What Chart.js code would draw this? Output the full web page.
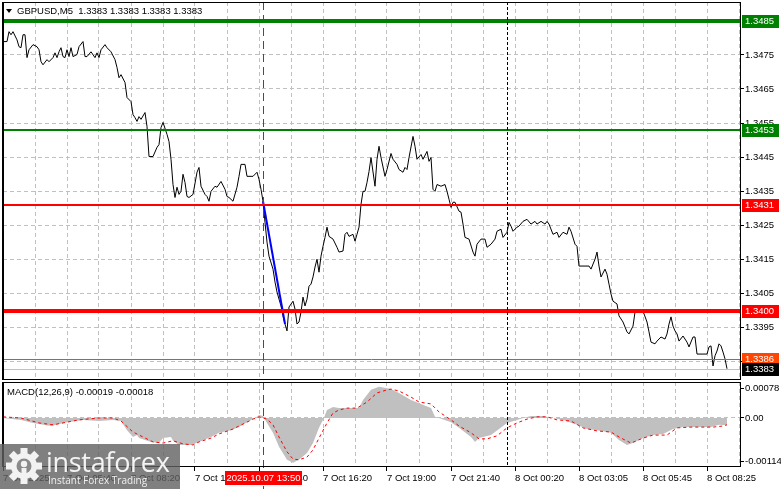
<!DOCTYPE html>
<html>
<head>
<meta charset="utf-8">
<title>GBPUSD,M5</title>
<script src="https://cdn.jsdelivr.net/npm/chart.js@4.4.1/dist/chart.umd.min.js"></script>
<style>
  html, body { margin: 0; padding: 0; background: #fff; }
  #wrap { position: relative; width: 781px; height: 489px; overflow: hidden; background: #fff; }
  canvas { position: absolute; left: 0; }
  #main { top: 0; }
  #macd { top: 381px; }
  .title { position: absolute; font: 9.5px "Liberation Sans", Arial, sans-serif; color: #000; white-space: pre; line-height: 12px; }
  #tri { position: absolute; left: 6px; top: 9px; width: 0; height: 0; border-left: 3px solid transparent; border-right: 3px solid transparent; border-top: 4px solid #000; }
  #wm { position: absolute; left: 0; top: 444px; width: 180px; height: 45px; background: rgba(96, 96, 96, 0.8); }
  #wm svg { position: absolute; left: 4px; top: 2px; }
  .wm-big { position: absolute; left: 46px; top: 2px; font: 27px "Open Sans", sans-serif; line-height: 32px; color: #f4f4f4; letter-spacing: -0.3px; }
  .wm-small { position: absolute; left: 48px; top: 30px; font: 10px "Open Sans", sans-serif; line-height: 12px; color: #f0f0f0; }
</style>
</head>
<body>
<div id="wrap">
  <canvas id="main" width="781" height="381"></canvas>
  <canvas id="macd" width="781" height="108"></canvas>
  <div id="tri"></div>
  <div class="title" style="left:17px;top:5px">GBPUSD,M5  1.3383 1.3383 1.3383 1.3383</div>
  <div class="title" style="left:7px;top:386px">MACD(12,26,9) -0.00019 -0.00018</div>
  <div id="wm">
    <svg width="40" height="40" viewBox="-20 -20 40 40">
      <g fill="#f2f2f2">
        <circle r="13"/>
        <rect x="-3.5" y="-18" width="7" height="7"/>
        <rect x="-3.5" y="-18" width="7" height="7" transform="rotate(45)"/>
        <rect x="-3.5" y="-18" width="7" height="7" transform="rotate(90)"/>
        <rect x="-3.5" y="-18" width="7" height="7" transform="rotate(135)"/>
        <rect x="-3.5" y="-18" width="7" height="7" transform="rotate(180)"/>
        <rect x="-3.5" y="-18" width="7" height="7" transform="rotate(225)"/>
        <rect x="-3.5" y="-18" width="7" height="7" transform="rotate(270)"/>
        <rect x="-3.5" y="-18" width="7" height="7" transform="rotate(315)"/>
      </g>
      <circle r="7.5" fill="#8a8a8a"/>
      <circle cy="-2" r="3.2" fill="#f2f2f2"/>
      <rect x="-2.5" y="2" width="5" height="16" fill="#f2f2f2"/>
    </svg>
    <div class="wm-big">instaforex</div>
    <div class="wm-small">Instant Forex Trading</div>
  </div>
</div>
<script>
// M5 bars, counted from the left edge of the window
const priceBars = [0, 2, 3, 4, 5, 7, 8, 9, 10, 11, 12, 13, 15, 17, 18, 19, 20, 22, 23, 25, 26, 27, 28, 29, 30, 31, 32, 33, 34, 35, 37, 38, 40, 41, 42, 44, 46, 47, 48, 49, 51, 52, 54, 56, 57, 58, 59, 61, 62, 64, 65, 66, 67, 68, 69, 71, 72, 73, 75, 77, 78, 79, 80, 82, 83, 84, 85, 86, 87, 88, 89, 90, 91, 92, 93, 95, 97, 98, 99, 101, 102, 103, 104, 106, 107, 109, 111, 112, 113, 115, 117, 118, 119, 121, 122, 125, 127, 128, 129, 130, 131, 132, 133, 135, 136, 137, 138, 139, 140, 141, 142, 143, 145, 146, 147, 148, 149, 150, 151, 152, 153, 154, 155, 156, 157, 158, 159, 160, 161, 162, 163, 165, 167, 168, 170, 171, 172, 173, 175, 176, 177, 178, 179, 180, 181, 182, 183, 184, 186, 187, 188, 189, 191, 192, 194, 195, 197, 198, 200, 201, 202, 203, 205, 206, 207, 209, 210, 212, 213, 214, 215, 216, 217, 219, 221, 222, 223, 224, 225, 226, 228, 229, 230, 231, 233, 235, 236, 237, 239, 241, 242, 244, 246, 247, 249, 250, 252, 253, 254, 255, 257, 258, 260, 262, 264, 266, 267, 269, 271, 272, 273, 275, 277, 278, 280, 282, 283, 284, 286, 287, 288, 291, 293, 294, 296, 297, 298, 299, 301, 302, 303, 304, 305, 307, 308, 310, 312, 313, 315, 316, 318, 320, 322, 323, 324, 326, 327, 329, 331, 332, 333, 334, 335, 336, 337, 338, 340, 342, 343, 345, 346, 347, 352, 353, 354, 355, 356, 357, 358, 359, 360, 361, 362];
const priceValues = [1.34789, 1.34789, 1.34818, 1.34809, 1.34818, 1.34794, 1.34774, 1.34771, 1.34809, 1.34809, 1.34742, 1.34765, 1.34780, 1.34774, 1.34765, 1.34730, 1.34721, 1.34736, 1.34730, 1.34742, 1.34756, 1.34742, 1.34759, 1.34771, 1.34745, 1.34742, 1.34765, 1.34745, 1.34771, 1.34745, 1.34751, 1.34774, 1.34789, 1.34745, 1.34745, 1.34759, 1.34742, 1.34756, 1.34742, 1.34765, 1.34780, 1.34771, 1.34759, 1.34736, 1.34713, 1.34683, 1.34692, 1.34669, 1.34625, 1.34613, 1.34575, 1.34566, 1.34555, 1.34569, 1.34561, 1.34581, 1.34540, 1.34452, 1.34452, 1.34479, 1.34487, 1.34537, 1.34552, 1.34517, 1.34496, 1.34444, 1.34370, 1.34332, 1.34362, 1.34341, 1.34350, 1.34400, 1.34376, 1.34335, 1.34332, 1.34341, 1.34406, 1.34420, 1.34365, 1.34341, 1.34335, 1.34321, 1.34350, 1.34365, 1.34362, 1.34379, 1.34356, 1.34335, 1.34332, 1.34321, 1.34362, 1.34394, 1.34429, 1.34429, 1.34394, 1.34394, 1.34406, 1.34385, 1.34356, 1.34321, 1.34259, 1.34201, 1.34160, 1.34122, 1.34084, 1.34055, 1.34034, 1.34014, 1.33985, 1.33961, 1.33941, 1.34011, 1.34028, 1.34005, 1.33961, 1.33967, 1.33996, 1.34040, 1.34014, 1.34034, 1.34072, 1.34078, 1.34099, 1.34128, 1.34151, 1.34113, 1.34160, 1.34189, 1.34215, 1.34245, 1.34218, 1.34210, 1.34186, 1.34172, 1.34175, 1.34224, 1.34230, 1.34218, 1.34224, 1.34204, 1.34224, 1.34245, 1.34312, 1.34350, 1.34350, 1.34376, 1.34408, 1.34449, 1.34365, 1.34444, 1.34482, 1.34449, 1.34394, 1.34414, 1.34461, 1.34444, 1.34429, 1.34414, 1.34406, 1.34420, 1.34414, 1.34449, 1.34511, 1.34482, 1.34444, 1.34458, 1.34444, 1.34467, 1.34438, 1.34449, 1.34356, 1.34350, 1.34370, 1.34365, 1.34370, 1.34350, 1.34327, 1.34303, 1.34318, 1.34318, 1.34292, 1.34289, 1.34254, 1.34215, 1.34210, 1.34172, 1.34160, 1.34195, 1.34210, 1.34210, 1.34186, 1.34195, 1.34210, 1.34233, 1.34239, 1.34215, 1.34230, 1.34259, 1.34248, 1.34233, 1.34245, 1.34248, 1.34262, 1.34268, 1.34254, 1.34262, 1.34254, 1.34262, 1.34254, 1.34262, 1.34254, 1.34224, 1.34230, 1.34215, 1.34230, 1.34224, 1.34245, 1.34233, 1.34195, 1.34189, 1.34131, 1.34131, 1.34131, 1.34122, 1.34151, 1.34172, 1.34131, 1.34099, 1.34122, 1.34107, 1.34078, 1.34049, 1.34028, 1.34020, 1.33985, 1.33967, 1.33938, 1.33932, 1.33955, 1.33996, 1.33996, 1.33999, 1.33967, 1.33938, 1.33908, 1.33903, 1.33911, 1.33923, 1.33917, 1.33932, 1.33961, 1.33982, 1.33955, 1.33941, 1.33932, 1.33911, 1.33926, 1.33908, 1.33894, 1.33923, 1.33923, 1.33873, 1.33873, 1.33894, 1.33897, 1.33838, 1.33868, 1.33882, 1.33903, 1.33897, 1.33879, 1.33859, 1.33830];

// blue trend line
const trendBars = [130, 141];
const trendValues = [1.34321, 1.33961];

// MACD(12,26,9)
const histBars = [0, 9, 15, 24, 32, 40, 48, 55, 59, 62, 65, 67, 68, 74, 78, 80, 84, 85, 88, 94, 98, 104, 108, 114, 118, 122, 127, 128, 130, 132, 135, 138, 142, 145, 148, 152, 155, 158, 160, 162, 165, 168, 172, 175, 178, 180, 184, 188, 194, 198, 204, 208, 214, 216, 218, 224, 228, 234, 236, 238, 244, 248, 252, 257, 260, 264, 270, 275, 280, 287, 292, 297, 304, 308, 312, 315, 320, 325, 330, 335, 340, 347, 354, 358, 362];
const histValues = [0, -0.00005, -0.00013, -0.00021, -0.00011, -0.00005, -0.00008, -0.00005, -0.00008, -0.00032, -0.00050, -0.00045, -0.00053, -0.00063, -0.00066, -0.00053, -0.00050, -0.00060, -0.00071, -0.00071, -0.00063, -0.00050, -0.00039, -0.00032, -0.00024, -0.00011, 0.00003, 0.00008, 0.00005, -0.00013, -0.00039, -0.00076, -0.00110, -0.00118, -0.00110, -0.00092, -0.00066, -0.00026, -0.00005, 0.00021, 0.00029, 0.00026, 0.00026, 0.00026, 0.00026, 0.00047, 0.00074, 0.00082, 0.00076, 0.00066, 0.00047, 0.00039, 0.00026, 0.00003, 0, -0.00011, -0.00026, -0.00050, -0.00063, -0.00053, -0.00045, -0.00029, -0.00013, -0.00005, 0, 0.00005, 0.00005, 0, -0.00005, -0.00018, -0.00029, -0.00032, -0.00039, -0.00058, -0.00071, -0.00066, -0.00053, -0.00045, -0.00042, -0.00029, -0.00024, -0.00024, -0.00024, -0.00018, -0.00019];
const signalBars = [0, 9, 18, 25, 32, 38, 48, 55, 59, 65, 70, 75, 80, 85, 90, 95, 98, 104, 108, 115, 120, 125, 128, 132, 135, 138, 142, 145, 148, 152, 155, 158, 162, 165, 168, 172, 177, 182, 187, 192, 194, 198, 204, 208, 214, 218, 224, 228, 234, 238, 242, 247, 252, 257, 262, 267, 272, 277, 284, 290, 297, 304, 308, 314, 320, 325, 332, 337, 344, 350, 355, 360, 362];
const signalValues = [0.00003, 0, -0.00013, -0.00018, -0.00011, -0.00005, 0, 0, -0.00008, -0.00037, -0.00050, -0.00063, -0.00066, -0.00060, -0.00068, -0.00071, -0.00063, -0.00053, -0.00042, -0.00029, -0.00016, -0.00003, 0.00003, -0.00003, -0.00018, -0.00050, -0.00089, -0.00108, -0.00110, -0.00103, -0.00084, -0.00053, -0.00013, 0.00013, 0.00021, 0.00026, 0.00026, 0.00042, 0.00066, 0.00074, 0.00076, 0.00071, 0.00055, 0.00042, 0.00037, 0.00016, -0.00005, -0.00021, -0.00039, -0.00055, -0.00055, -0.00047, -0.00026, -0.00013, -0.00003, 0.00003, 0.00003, -0.00005, -0.00008, -0.00026, -0.00034, -0.00037, -0.00050, -0.00066, -0.00053, -0.00045, -0.00045, -0.00026, -0.00024, -0.00024, -0.00024, -0.00021, -0.00018];

// axis labels
const timeLabels = ['7 Oct 2025', '7 Oct 05:40', '7 Oct 08:20', '7 Oct 11:00', '7 Oct 13:40', '7 Oct 16:20', '7 Oct 19:00', '7 Oct 21:40', '8 Oct 00:20', '8 Oct 03:05', '8 Oct 05:45', '8 Oct 08:25'];
const priceTickLabels = ['1.3385', '1.3395', '1.3405', '1.3415', '1.3425', '1.3435', '1.3445', '1.3455', '1.3465', '1.3475'];
const macdTickValues = [0.00078, 0, -0.00114];
const macdTickLabels = ['0.00078', '0.00', '-0.00114'];

// horizontal levels and their price boxes
const levelValues = [1.3485, 1.3453, 1.3431, 1.3400, 1.3386, 1.3383];
const levelLabels = ['1.3485', '1.3453', '1.3431', '1.3400', '1.3386', '1.3383'];
const levelColors = ['#008000', '#008000', '#ff0000', '#ff0000', '#ff4500', '#c0c0c0'];
const levelBoxColors = ['#008000', '#008000', '#ff0000', '#ff0000', '#ff4500', '#000000'];
const levelWidths = [4, 2, 2, 4, 1, 1];

// vertical markers
const markerBar = 130;
const markerLabel = '2025.10.07 13:50';
const daySepBar = 252;

const BAR_MAX = 368.5;
const GRID_STEP = 16;
const LABEL_STEP = 32;
const FONT_FAMILY = '"Liberation Sans", Arial, sans-serif';
const AXIS_FONT = { family: FONT_FAMILY, size: 9.5 };
const CANVAS_FONT = '9.5px ' + FONT_FAMILY;

const pts = (xs, ys) => xs.map((x, i) => ({ x, y: ys[i] }));

function xAxis(showLabels) {
  return {
    type: 'linear', min: 0, max: BAR_MAX,
    afterBuildTicks: s => {
      const t = [];
      for (let v = 0; v <= BAR_MAX; v += GRID_STEP) t.push({ value: v });
      s.ticks = t;
    },
    ticks: {
      display: showLabels, autoSkip: false, maxRotation: 0, minRotation: 0,
      align: 'start', padding: 2, color: '#000', font: AXIS_FONT,
      callback: v => (v % LABEL_STEP === 0 ? (timeLabels[v / LABEL_STEP] || '') : '')
    },
    grid: {
      color: '#c0c0c0', lineWidth: 1, drawTicks: showLabels, tickLength: 4, tickBorderDash: [],
      tickColor: c => (c.tick && c.tick.value % LABEL_STEP === 0 ? '#000' : 'rgba(0,0,0,0)')
    },
    border: { display: false, dash: [4, 3] },
    afterFit: s => { s.height = showLabels ? 22 : 0; s.paddingLeft = 0; s.paddingRight = 0; }
  };
}

function drawFrame(ctx, a) {
  ctx.save();
  ctx.strokeStyle = '#000';
  ctx.lineWidth = 1;
  ctx.setLineDash([]);
  ctx.strokeRect(a.left + 0.5, a.top + 0.5, a.right - a.left, a.bottom - a.top - 1);
  ctx.beginPath();
  ctx.moveTo(a.left - 0.5, a.top);
  ctx.lineTo(a.left - 0.5, a.bottom);
  ctx.stroke();
  ctx.restore();
}

function drawVertical(chart, bar, color, dash, top, bottom) {
  const ctx = chart.ctx;
  const px = Math.round(chart.scales.x.getPixelForValue(bar)) + 0.5;
  ctx.save();
  ctx.strokeStyle = color;
  ctx.lineWidth = 1;
  ctx.setLineDash(dash);
  ctx.beginPath();
  ctx.moveTo(px, top);
  ctx.lineTo(px, bottom);
  ctx.stroke();
  ctx.restore();
}

const mainOverlay = {
  id: 'mainOverlay',
  afterDatasetsDraw(chart) {
    const { ctx, chartArea: a, scales: { y } } = chart;
    ctx.save();
    levelValues.forEach((v, i) => {
      const w = levelWidths[i];
      const py = Math.round(y.getPixelForValue(v)) + (w % 2 ? 0.5 : 0);
      ctx.strokeStyle = levelColors[i];
      ctx.lineWidth = w;
      ctx.beginPath();
      ctx.moveTo(a.left, py);
      ctx.lineTo(a.right, py);
      ctx.stroke();
    });
    ctx.restore();
    drawVertical(chart, markerBar, '#ff0000', [8, 5], a.top, a.bottom);
    drawVertical(chart, daySepBar, '#000', [3, 2], a.top, a.bottom);
  },
  afterDraw(chart) {
    const { ctx, chartArea: a, scales: { y } } = chart;
    drawFrame(ctx, a);
    ctx.save();
    ctx.font = CANVAS_FONT;
    ctx.textBaseline = 'middle';
    ctx.textAlign = 'left';
    levelValues.forEach((v, i) => {
      const py = Math.round(y.getPixelForValue(v));
      ctx.fillStyle = levelBoxColors[i];
      ctx.fillRect(a.right + 2, py - 6, 37, 13);
      ctx.fillStyle = '#fff';
      ctx.fillText(levelLabels[i], a.right + 5, py + 0.5);
    });
    ctx.restore();
  }
};

const macdOverlay = {
  id: 'macdOverlay',
  afterDatasetsDraw(chart) {
    const a = chart.chartArea;
    drawVertical(chart, markerBar, '#ff0000', [8, 5], a.top, chart.height);
    drawVertical(chart, daySepBar, '#000', [3, 2], a.top, a.bottom);
  },
  afterDraw(chart) {
    const { ctx, chartArea: a, scales: { x } } = chart;
    drawFrame(ctx, a);
    const px = Math.round(x.getPixelForValue(markerBar));
    ctx.save();
    ctx.fillStyle = '#ff0000';
    ctx.fillRect(px - 38, a.bottom + 4, 77, 14);
    ctx.fillStyle = '#fff';
    ctx.font = CANVAS_FONT;
    ctx.textAlign = 'center';
    ctx.textBaseline = 'middle';
    ctx.fillText(markerLabel, px + 0.5, a.bottom + 11.5);
    ctx.restore();
  }
};

new Chart(document.getElementById('main'), {
  type: 'line',
  data: {
    datasets: [
      { data: pts(trendBars, trendValues), borderColor: '#0000ff', borderWidth: 2, pointRadius: 0, tension: 0 },
      { data: pts(priceBars, priceValues), borderColor: '#000', borderWidth: 1, pointRadius: 0, tension: 0 }
    ]
  },
  options: {
    responsive: false, animation: false,
    layout: { padding: { left: 3, top: 2, right: 0, bottom: 1 } },
    plugins: { legend: { display: false }, tooltip: { enabled: false } },
    scales: {
      x: xAxis(false),
      y: {
        position: 'right', min: 1.33797, max: 1.34905,
        afterBuildTicks: s => { s.ticks = priceTickLabels.map(t => ({ value: parseFloat(t) })); },
        ticks: { padding: 1, color: '#000', font: AXIS_FONT, callback: (v, i) => priceTickLabels[i] },
        grid: { color: '#c0c0c0', tickLength: 4, tickColor: '#000', tickBorderDash: [] },
        border: { display: false, dash: [4, 3] },
        afterFit: s => { s.width = 41; s.paddingTop = 0; s.paddingBottom = 0; }
      }
    }
  },
  plugins: [mainOverlay]
});

new Chart(document.getElementById('macd'), {
  type: 'line',
  data: {
    datasets: [
      { data: pts(signalBars, signalValues), borderColor: '#ff0000', borderWidth: 1, borderDash: [3, 3], pointRadius: 0, tension: 0 },
      { data: pts(histBars, histValues), borderColor: 'rgba(0,0,0,0)', borderWidth: 0, backgroundColor: '#c0c0c0', fill: 'origin', pointRadius: 0, tension: 0 }
    ]
  },
  options: {
    responsive: false, animation: false,
    layout: { padding: { left: 3, top: 1, right: 0, bottom: 0 } },
    plugins: { legend: { display: false }, tooltip: { enabled: false } },
    scales: {
      x: xAxis(true),
      y: {
        position: 'right', min: -0.00129, max: 0.000947,
        afterBuildTicks: s => { s.ticks = macdTickValues.map(v => ({ value: v })); },
        ticks: { padding: 1, color: '#000', font: AXIS_FONT, callback: (v, i) => macdTickLabels[i] },
        grid: {
          tickLength: 4, tickColor: '#000', tickBorderDash: [],
          color: c => (c.tick && c.tick.value === 0 ? '#c0c0c0' : 'rgba(0,0,0,0)')
        },
        border: { display: false, dash: [4, 3] },
        afterFit: s => { s.width = 41; s.paddingTop = 0; s.paddingBottom = 0; }
      }
    }
  },
  plugins: [macdOverlay]
});
</script>
</body>
</html>
